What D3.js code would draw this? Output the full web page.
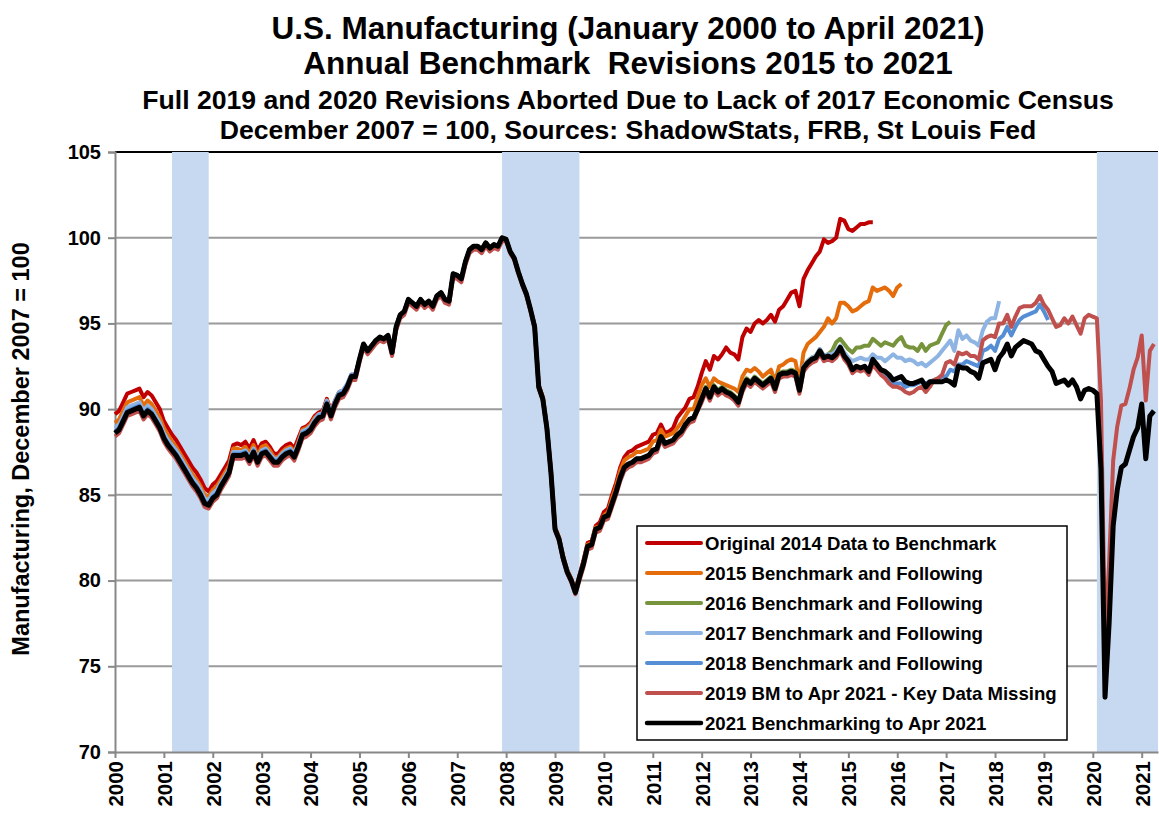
<!DOCTYPE html>
<html>
<head>
<meta charset="utf-8">
<script src="https://cdn.jsdelivr.net/npm/d3@7"></script>
<style>
  body { margin: 0; background: #fff; }
  text { font-family: "Liberation Sans", Arial, sans-serif; font-weight: bold; fill: #000; }
</style>
</head>
<body>
<svg></svg>
<script>
let width = 1159, height = 814;

// monthly index values, Jan 2000 = month 0
let original2014 = [
  89.7, 89.9, 90.4, 90.9, 91.0, 91.1, 91.2, 90.7, 91.0, 90.8, 90.4, 90.0,
  89.3, 88.9, 88.5, 88.2, 87.8, 87.4, 87.0, 86.6, 86.3, 85.9, 85.4, 85.2,
  85.6, 85.8, 86.2, 86.6, 87.0, 87.9, 88.0, 87.9, 88.1, 87.7, 88.2, 87.6,
  88.0, 88.1, 87.8, 87.4, 87.4, 87.7, 87.9, 88.0, 87.7, 88.3, 88.9, 89.0,
  89.2, 89.6, 89.8, 89.9, 90.6, 89.9, 90.5, 91.0, 91.1, 91.4, 92.0, 92.0,
  92.9, 93.8, 93.4, 93.7, 94.0, 94.2, 94.1, 94.3, 93.3, 94.8, 95.5, 95.7,
  96.4, 96.2, 96.0, 96.4, 96.1, 96.3, 96.0, 96.6, 96.8, 96.4, 96.3, 97.9,
  97.8, 97.6, 98.6, 99.3, 99.5, 99.5, 99.3, 99.7, 99.4, 99.6, 99.5, 100.0,
  99.9, 99.2, 98.8, 98.0, 97.3, 96.7, 95.8, 94.9, 91.4, 90.7, 89.0, 86.4,
  83.1, 82.5, 81.4, 80.6, 80.1, 79.4, 80.3, 81.2, 82.2, 82.3, 83.2, 83.4,
  84.0, 84.2, 85.0, 85.7, 86.6, 87.2, 87.5, 87.6, 87.8, 87.9, 88.0, 88.1,
  88.5, 88.6, 89.1, 88.6, 88.7, 88.9, 89.5, 89.8, 90.1, 90.6, 90.7, 91.3,
  92.1, 92.8, 92.3, 93.1, 92.9, 93.2, 93.6, 93.3, 93.2, 92.9, 94.2, 94.7,
  94.5, 95.0, 95.2, 95.0, 95.2, 95.5, 95.1, 95.8, 96.0, 96.4, 96.8, 96.9,
  96.0, 97.6, 98.1, 98.5, 98.9, 99.2, 99.9, 99.7, 99.8, 100.0, 101.1, 101.0,
  100.5, 100.4, 100.6, 100.8, 100.8, 100.9, 100.9
];

let bench2015 = [
  89.2, 89.4, 89.9, 90.4, 90.5, 90.6, 90.7, 90.2, 90.5, 90.3, 89.9, 89.5,
  88.9, 88.5, 88.1, 87.8, 87.4, 87.0, 86.6, 86.2, 85.9, 85.5, 85.0, 84.9,
  85.3, 85.5, 85.9, 86.3, 86.7, 87.7, 87.7, 87.6, 87.8, 87.4, 87.9, 87.3,
  87.8, 87.9, 87.6, 87.2, 87.2, 87.5, 87.7, 87.8, 87.5, 88.1, 88.8, 88.9,
  89.1, 89.5, 89.7, 89.8, 90.5, 89.8, 90.4, 90.9, 91.0, 91.4, 91.9, 91.9,
  92.9, 93.8, 93.4, 93.7, 94.0, 94.2, 94.1, 94.3, 93.3, 94.8, 95.5, 95.7,
  96.4, 96.2, 96.0, 96.4, 96.1, 96.3, 96.0, 96.6, 96.8, 96.4, 96.3, 97.9,
  97.8, 97.6, 98.6, 99.3, 99.5, 99.5, 99.3, 99.7, 99.4, 99.6, 99.5, 100.0,
  99.9, 99.2, 98.8, 98.0, 97.3, 96.7, 95.8, 94.9, 91.4, 90.7, 89.0, 86.4,
  83.1, 82.5, 81.4, 80.6, 80.1, 79.4, 80.3, 81.1, 82.1, 82.2, 83.1, 83.2,
  83.8, 84.0, 84.8, 85.5, 86.4, 87.0, 87.2, 87.3, 87.5, 87.5, 87.6, 87.7,
  88.1, 88.2, 88.8, 88.4, 88.5, 88.6, 88.9, 89.2, 89.6, 90.0, 90.0, 90.7,
  91.4, 91.8, 91.3, 91.8, 91.6, 91.5, 91.4, 91.3, 91.2, 91.0, 91.9, 92.3,
  92.2, 92.4, 92.2, 91.9, 92.1, 92.3, 91.6, 92.5, 92.6, 92.8, 92.9, 92.8,
  91.6, 93.3, 93.8, 94.0, 94.2, 94.5, 94.8, 95.3, 95.0, 95.3, 96.2, 96.2,
  96.0, 95.7, 95.8, 96.0, 96.2, 96.3, 97.1, 96.9, 97.0, 97.1, 96.9, 96.6,
  97.1, 97.3
];

let bench2016 = [
  88.6, 88.8, 89.3, 89.8, 89.9, 90.0, 90.1, 89.6, 89.9, 89.7, 89.3, 88.9,
  88.3, 87.9, 87.6, 87.3, 86.9, 86.5, 86.1, 85.7, 85.4, 85.0, 84.5, 84.4,
  84.8, 85.0, 85.5, 85.9, 86.3, 87.3, 87.3, 87.3, 87.4, 87.0, 87.5, 86.9,
  87.4, 87.5, 87.2, 86.9, 86.9, 87.2, 87.4, 87.5, 87.2, 87.8, 88.5, 88.6,
  88.8, 89.2, 89.5, 89.6, 90.3, 89.6, 90.3, 90.8, 90.9, 91.3, 91.9, 91.9,
  92.9, 93.8, 93.4, 93.7, 94.0, 94.2, 94.1, 94.3, 93.3, 94.8, 95.5, 95.7,
  96.4, 96.2, 96.0, 96.4, 96.1, 96.3, 96.0, 96.6, 96.8, 96.4, 96.3, 97.9,
  97.8, 97.6, 98.6, 99.3, 99.5, 99.5, 99.3, 99.7, 99.4, 99.6, 99.5, 100.0,
  99.9, 99.2, 98.8, 98.0, 97.3, 96.7, 95.8, 94.8, 91.3, 90.6, 88.9, 86.3,
  83.0, 82.4, 81.3, 80.5, 80.0, 79.3, 80.2, 81.0, 82.0, 82.1, 83.0, 83.1,
  83.7, 83.8, 84.5, 85.2, 86.0, 86.6, 86.8, 86.9, 87.1, 87.1, 87.2, 87.3,
  87.6, 87.7, 88.4, 88.0, 88.1, 88.2, 88.5, 88.7, 89.1, 89.4, 89.5, 90.0,
  90.7, 91.3, 90.8, 91.4, 91.1, 91.3, 91.1, 91.0, 90.8, 90.5, 91.3, 91.8,
  91.6, 91.9, 91.7, 91.5, 91.7, 91.9, 91.3, 92.1, 92.2, 92.2, 92.3, 92.2,
  91.2, 92.5, 92.8, 93.0, 93.1, 93.5, 93.1, 93.2, 93.4, 93.9, 94.1, 93.8,
  93.5, 93.3, 93.6, 93.6, 93.7, 93.7, 94.1, 93.9, 93.7, 93.9, 93.8, 93.7,
  94.0, 94.2, 93.7, 93.6, 93.6, 93.4, 93.8, 93.4, 93.7, 93.8, 93.9, 94.4,
  94.9, 95.1
];

let bench2017 = [
  88.9, 89.1, 89.6, 90.1, 90.2, 90.3, 90.4, 89.9, 90.2, 90.0, 89.6, 89.2,
  88.6, 88.2, 87.9, 87.6, 87.2, 86.8, 86.4, 86.0, 85.7, 85.3, 84.8, 84.7,
  85.1, 85.3, 85.7, 86.1, 86.5, 87.5, 87.5, 87.5, 87.6, 87.2, 87.7, 87.1,
  87.6, 87.7, 87.4, 87.1, 87.1, 87.4, 87.6, 87.7, 87.4, 88.0, 88.7, 88.8,
  89.0, 89.4, 89.7, 89.8, 90.5, 89.8, 90.5, 91.0, 91.1, 91.5, 92.0, 92.0,
  92.9, 93.8, 93.4, 93.7, 94.0, 94.2, 94.1, 94.3, 93.3, 94.8, 95.5, 95.7,
  96.4, 96.2, 96.0, 96.4, 96.1, 96.3, 96.0, 96.6, 96.8, 96.4, 96.3, 97.9,
  97.8, 97.6, 98.6, 99.3, 99.5, 99.5, 99.3, 99.7, 99.4, 99.6, 99.5, 100.0,
  99.9, 99.2, 98.8, 98.0, 97.3, 96.7, 95.8, 94.8, 91.3, 90.6, 88.9, 86.3,
  83.0, 82.4, 81.3, 80.5, 80.0, 79.3, 80.2, 81.0, 82.0, 82.1, 83.0, 83.1,
  83.7, 83.8, 84.5, 85.2, 86.0, 86.6, 86.8, 86.9, 87.1, 87.1, 87.2, 87.3,
  87.6, 87.7, 88.4, 88.0, 88.1, 88.2, 88.5, 88.7, 89.1, 89.4, 89.5, 90.0,
  90.6, 91.2, 90.7, 91.3, 91.0, 91.2, 91.0, 90.9, 90.7, 90.4, 91.2, 91.7,
  91.5, 91.8, 91.6, 91.4, 91.6, 91.8, 91.2, 92.0, 92.1, 92.1, 92.2, 92.1,
  91.2, 92.5, 92.8, 93.0, 93.1, 93.5, 93.1, 93.2, 93.2, 93.4, 93.7, 93.3,
  93.0, 92.8, 92.9, 93.0, 92.9, 92.9, 93.2, 93.0, 93.0, 92.8, 93.0, 93.2,
  93.0, 93.0, 92.8, 92.9, 92.8, 92.6, 92.7, 92.5, 92.7, 92.9, 93.1, 93.4,
  93.7, 94.0, 93.4, 94.6, 94.1, 94.3, 94.0, 93.9, 93.7, 94.6, 95.1, 95.3,
  95.3, 96.3
];

let bench2018 = [
  88.7, 88.9, 89.4, 89.9, 90.0, 90.1, 90.2, 89.7, 90.0, 89.8, 89.4, 89.0,
  88.4, 88.0, 87.7, 87.4, 87.0, 86.6, 86.2, 85.8, 85.5, 85.1, 84.6, 84.5,
  84.9, 85.1, 85.6, 86.0, 86.4, 87.4, 87.4, 87.4, 87.5, 87.1, 87.6, 87.0,
  87.5, 87.6, 87.3, 87.0, 87.0, 87.3, 87.5, 87.6, 87.3, 87.9, 88.6, 88.7,
  88.9, 89.3, 89.6, 89.7, 90.4, 89.7, 90.4, 90.9, 91.0, 91.4, 92.0, 92.0,
  92.9, 93.8, 93.4, 93.7, 94.0, 94.2, 94.1, 94.3, 93.3, 94.8, 95.5, 95.7,
  96.4, 96.2, 96.0, 96.4, 96.1, 96.3, 96.0, 96.6, 96.8, 96.4, 96.3, 97.9,
  97.8, 97.6, 98.6, 99.3, 99.5, 99.5, 99.3, 99.7, 99.4, 99.6, 99.5, 100.0,
  99.9, 99.2, 98.8, 98.0, 97.3, 96.7, 95.8, 94.8, 91.3, 90.6, 88.9, 86.3,
  83.0, 82.4, 81.3, 80.5, 80.0, 79.3, 80.2, 81.0, 82.0, 82.1, 83.0, 83.1,
  83.7, 83.8, 84.5, 85.2, 86.0, 86.6, 86.8, 86.9, 87.1, 87.1, 87.2, 87.3,
  87.6, 87.7, 88.4, 88.0, 88.1, 88.2, 88.5, 88.7, 89.1, 89.4, 89.5, 90.0,
  90.6, 91.2, 90.7, 91.3, 91.0, 91.2, 91.0, 90.9, 90.7, 90.4, 91.2, 91.7,
  91.5, 91.8, 91.6, 91.4, 91.6, 91.8, 91.2, 92.0, 92.1, 92.1, 92.2, 92.1,
  91.1, 92.4, 92.7, 92.9, 93.0, 93.4, 93.0, 93.1, 93.0, 93.2, 93.6, 93.1,
  92.7, 92.2, 92.4, 92.3, 92.4, 92.1, 92.8, 92.5, 92.2, 92.0, 91.8, 91.5,
  91.5, 91.5, 91.3, 91.4, 91.4, 91.5, 91.6, 91.5, 91.6, 91.7, 91.8, 91.9,
  91.9, 92.3, 92.2, 92.6, 92.6, 92.8, 92.7, 92.6, 92.5, 93.4, 93.5, 93.7,
  93.4, 94.1, 94.3, 94.8, 94.3, 94.8, 95.2, 95.4, 95.5, 95.6, 95.7, 96.1,
  95.7, 95.2
];

let bm2019 = [
  88.4, 88.6, 89.1, 89.6, 89.7, 89.8, 89.9, 89.4, 89.7, 89.5, 89.1, 88.7,
  88.1, 87.7, 87.4, 87.1, 86.7, 86.3, 85.9, 85.5, 85.2, 84.8, 84.3, 84.2,
  84.6, 84.8, 85.3, 85.7, 86.1, 87.1, 87.1, 87.1, 87.2, 86.8, 87.3, 86.7,
  87.2, 87.3, 87.0, 86.7, 86.7, 87.0, 87.2, 87.3, 87.0, 87.6, 88.3, 88.4,
  88.6, 89.0, 89.3, 89.4, 90.1, 89.4, 90.1, 90.6, 90.7, 91.1, 91.7, 91.7,
  92.7, 93.6, 93.2, 93.5, 93.8, 94.0, 93.9, 94.1, 93.1, 94.6, 95.3, 95.5,
  96.2, 96.0, 95.8, 96.2, 95.9, 96.1, 95.8, 96.4, 96.6, 96.2, 96.1, 97.7,
  97.6, 97.4, 98.4, 99.1, 99.3, 99.3, 99.1, 99.5, 99.2, 99.4, 99.3, 99.8,
  99.8, 99.1, 98.7, 97.9, 97.2, 96.6, 95.7, 94.7, 91.2, 90.5, 88.8, 86.2,
  82.9, 82.3, 81.2, 80.4, 79.9, 79.2, 80.0, 80.8, 81.8, 81.9, 82.8, 82.9,
  83.5, 83.6, 84.3, 85.0, 85.8, 86.4, 86.6, 86.7, 86.9, 86.9, 87.0, 87.1,
  87.4, 87.5, 88.2, 87.8, 87.9, 88.0, 88.3, 88.5, 88.9, 89.2, 89.3, 89.9,
  90.4, 91.0, 90.5, 91.1, 90.8, 91.0, 90.8, 90.7, 90.5, 90.2, 91.0, 91.5,
  91.3, 91.6, 91.4, 91.2, 91.4, 91.6, 91.0, 91.8, 91.9, 91.9, 92.0, 91.9,
  90.9, 92.2, 92.5, 92.7, 92.8, 93.2, 92.8, 92.9, 92.8, 93.0, 93.4, 92.9,
  92.6, 92.1, 92.3, 92.2, 92.3, 92.0, 92.6, 92.3, 92.0, 91.8, 91.5, 91.3,
  91.3, 91.2, 91.0, 90.9, 91.0, 91.2, 91.3, 91.0, 91.3, 91.7, 91.8, 92.0,
  92.7, 92.8, 92.6, 93.3, 93.2, 93.3, 93.1, 93.1, 92.9, 94.0, 94.2, 94.3,
  94.2, 95.0, 95.0, 95.5, 94.8, 95.4, 95.9, 96.0, 96.0, 96.0, 96.2, 96.6,
  96.1, 95.8, 95.3, 94.8, 94.9, 95.3, 95.0, 95.4, 94.9, 94.4, 95.3, 95.5,
  95.4, 95.3, 90.5, 76.6, 81.0, 87.0, 89.0, 90.2, 90.3, 91.2, 92.3, 93.0,
  94.3, 90.5, 93.4, 93.8
];

let bench2021 = [
  88.6, 88.8, 89.3, 89.8, 89.9, 90.0, 90.1, 89.6, 89.9, 89.7, 89.3, 88.9,
  88.3, 87.9, 87.6, 87.3, 86.9, 86.5, 86.1, 85.7, 85.4, 85.0, 84.5, 84.4,
  84.8, 85.0, 85.5, 85.9, 86.3, 87.3, 87.3, 87.3, 87.4, 87.0, 87.5, 86.9,
  87.4, 87.5, 87.2, 86.9, 86.9, 87.2, 87.4, 87.5, 87.2, 87.8, 88.5, 88.6,
  88.8, 89.2, 89.5, 89.6, 90.3, 89.6, 90.3, 90.8, 90.9, 91.3, 91.9, 91.9,
  92.9, 93.8, 93.4, 93.7, 94.0, 94.2, 94.1, 94.3, 93.3, 94.8, 95.5, 95.7,
  96.4, 96.2, 96.0, 96.4, 96.1, 96.3, 96.0, 96.6, 96.8, 96.4, 96.3, 97.9,
  97.8, 97.6, 98.6, 99.3, 99.5, 99.5, 99.3, 99.7, 99.4, 99.6, 99.5, 100.0,
  99.9, 99.2, 98.8, 98.0, 97.3, 96.7, 95.8, 94.8, 91.3, 90.6, 88.9, 86.3,
  83.0, 82.4, 81.3, 80.5, 80.0, 79.3, 80.2, 81.0, 82.0, 82.1, 83.0, 83.1,
  83.7, 83.8, 84.5, 85.2, 86.0, 86.6, 86.8, 86.9, 87.1, 87.1, 87.2, 87.3,
  87.6, 87.7, 88.4, 88.0, 88.1, 88.2, 88.5, 88.7, 89.1, 89.4, 89.5, 90.0,
  90.6, 91.2, 90.7, 91.3, 91.0, 91.2, 91.0, 90.9, 90.7, 90.4, 91.2, 91.7,
  91.5, 91.8, 91.6, 91.4, 91.6, 91.8, 91.2, 92.0, 92.1, 92.1, 92.2, 92.1,
  91.1, 92.4, 92.7, 92.9, 93.0, 93.4, 93.0, 93.1, 93.0, 93.2, 93.6, 93.1,
  92.8, 92.3, 92.5, 92.4, 92.5, 92.2, 92.9, 92.6, 92.3, 92.2, 92.0, 91.7,
  91.8, 91.9, 91.6, 91.5, 91.5, 91.6, 91.7, 91.3, 91.6, 91.6, 91.6, 91.6,
  91.7, 91.6, 91.4, 92.5, 92.4, 92.4, 92.2, 92.1, 91.8, 92.7, 92.8, 92.9,
  92.3, 93.0, 93.3, 93.8, 93.1, 93.6, 93.8, 94.0, 93.9, 93.8, 93.4, 93.3,
  92.9, 92.5, 92.2, 91.5, 91.6, 91.7, 91.4, 91.7, 91.3, 90.6, 91.1, 91.2,
  91.1, 90.9, 86.5, 73.2, 77.5, 83.2, 85.3, 86.6, 86.8, 87.6, 88.4, 88.9,
  90.3, 87.1, 89.6, 89.9
];

let seriesLabels = [
  "Original 2014 Data to Benchmark",
  "2015 Benchmark and Following",
  "2016 Benchmark and Following",
  "2017 Benchmark and Following",
  "2018 Benchmark and Following",
  "2019 BM to Apr 2021 - Key Data Missing",
  "2021 Benchmarking to Apr 2021"
];
let seriesColors = ["#C00000", "#E46C0A", "#77933C", "#8DB4E2", "#558ED5", "#C0504D", "#000000"];
let seriesData = [original2014, bench2015, bench2016, bench2017, bench2018, bm2019, bench2021];

// recessions as [start month, end month]
let recessions = [[14, 23], [95, 114], [241, 256]];
let years = d3.range(2000, 2022);
let yTicks = [70, 75, 80, 85, 90, 95, 100, 105];

let titles = [
  "U.S. Manufacturing (January 2000 to April 2021)",
  "Annual Benchmark  Revisions 2015 to 2021",
  "Full 2019 and 2020 Revisions Aborted Due to Lack of 2017 Economic Census",
  "December 2007 = 100, Sources: ShadowStats, FRB, St Louis Fed"
];

let svg = d3.select("svg")
  .attr("width", width)
  .attr("height", height);

let plotLeft = 115, plotRight = 1158, plotTop = 152, plotBottom = 752;

let x = d3.scaleLinear().domain([0, 256]).range([plotLeft, plotRight]);
let y = d3.scaleLinear().domain([70, 105]).range([plotBottom, plotTop]);

// Titles
let titleSizes = [31.5, 31.5, 26.6, 26.6];
let titleY = [39, 74, 109, 139];
svg.append("g")
  .selectAll("text")
  .data(titles)
  .enter()
  .append("text")
  .attr("x", 628)
  .attr("y", (d, i) => titleY[i])
  .attr("text-anchor", "middle")
  .style("font-size", (d, i) => titleSizes[i] + "px")
  .style("white-space", "pre")
  .text(d => d);

// Gridlines
svg.append("g")
  .selectAll("line")
  .data(yTicks.filter(d => d > 70))
  .enter()
  .append("line")
  .attr("x1", plotLeft)
  .attr("x2", plotRight)
  .attr("y1", d => y(d))
  .attr("y2", d => y(d))
  .attr("stroke", d => d == 105 ? "#000" : "#9a9a9a")
  .attr("stroke-width", 2);

// Recession bars
svg.append("g")
  .selectAll("rect")
  .data(recessions)
  .enter()
  .append("rect")
  .attr("x", d => x(d[0]))
  .attr("width", d => x(d[1]) - x(d[0]))
  .attr("y", plotTop)
  .attr("height", plotBottom - plotTop)
  .attr("fill", "#C6D9F1");

// Axes
let yAxis = d3.axisLeft(y).tickValues(yTicks).tickSize(7).tickPadding(7);
let gy = svg.append("g")
  .attr("transform", "translate(" + plotLeft + ",0)")
  .call(yAxis);
gy.select(".domain").attr("stroke", "#888").attr("stroke-width", 2);
gy.selectAll(".tick line").attr("stroke", "#888").attr("stroke-width", 2);
gy.selectAll("text").style("font-size", "20px").style("font-family", "'Liberation Sans', Arial, sans-serif").style("font-weight", "bold");

let xAxis = d3.axisBottom(x)
  .tickValues(years.map(d => (d - 2000) * 12))
  .tickFormat(d => 2000 + d / 12)
  .tickSize(6)
  .tickSizeOuter(0);
let gx = svg.append("g")
  .attr("transform", "translate(0," + plotBottom + ")")
  .call(xAxis);
gx.select(".domain").attr("stroke", "#888").attr("stroke-width", 2);
gx.selectAll(".tick line").attr("stroke", "#888").attr("stroke-width", 2);
gx.selectAll("text")
  .attr("transform", "rotate(-90)")
  .attr("x", -9)
  .attr("y", 0)
  .attr("dy", "0.36em")
  .attr("text-anchor", "end")
  .style("font-size", "20.5px")
  .style("font-family", "'Liberation Sans', Arial, sans-serif")
  .style("font-weight", "bold");

// Y axis title
svg.append("text")
  .attr("transform", "translate(29,449) rotate(-90)")
  .attr("text-anchor", "middle")
  .style("font-size", "23.5px")
  .text("Manufacturing, December 2007 = 100");

// Lines
let line = d3.line()
  .x((d, i) => x(i))
  .y(d => y(d))
  .curve(d3.curveLinear);

svg.append("g")
  .selectAll("path")
  .data(seriesData)
  .enter()
  .append("path")
  .attr("d", line)
  .attr("fill", "none")
  .attr("stroke", (d, i) => seriesColors[i])
  .attr("stroke-width", (d, i) => i == 6 ? 5 : 4)
  .attr("stroke-linejoin", "round");

// Legend
let legend = svg.append("g").attr("transform", "translate(637,526)");
legend.append("rect")
  .attr("width", 430)
  .attr("height", 214)
  .attr("fill", "#fff")
  .attr("stroke", "#000")
  .attr("stroke-width", 1.5);

let items = legend.selectAll("g.item")
  .data(seriesLabels)
  .enter()
  .append("g")
  .attr("class", "item")
  .attr("transform", (d, i) => "translate(0," + (17 + i * 30) + ")");

items.append("line")
  .attr("x1", 10)
  .attr("x2", 64)
  .attr("stroke", (d, i) => seriesColors[i])
  .attr("stroke-width", (d, i) => i == 6 ? 4.5 : 4)
  .attr("stroke-linecap", "round");

items.append("text")
  .attr("x", 68)
  .attr("dy", "0.36em")
  .style("font-size", "18.6px")
  .text(d => d);
</script>
</body>
</html>
